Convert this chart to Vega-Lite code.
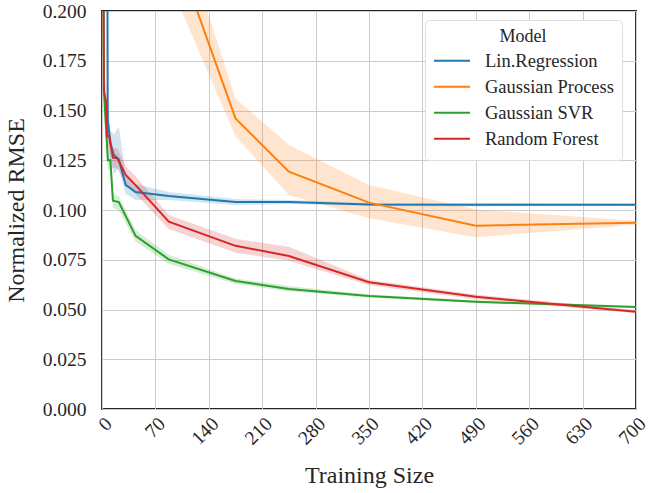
{
  "$schema": "https://vega.github.io/schema/vega-lite/v6.json",
  "autosize": {"type": "none"},
  "width": 534,
  "height": 398,
  "padding": {"left": 102, "top": 11, "right": 13, "bottom": 84},
  "background": "white",
  "config": {
    "font": "Liberation Serif",
    "view": {"stroke": "#262626", "strokeWidth": 1.8},
    "axis": {
      "gridColor": "#cccccc",
      "gridWidth": 1,
      "domain": false,
      "ticks": false,
      "labelFont": "Liberation Serif",
      "titleFont": "Liberation Serif",
      "labelFontSize": 19.5,
      "titleFontSize": 24,
      "titleFontWeight": "normal",
      "labelColor": "#262626",
      "titleColor": "#262626"
    }
  },
  "data": {
    "values": [
      {"m": "Lin.Regression", "x": 1, "y": 3.0, "lo": 2.9, "hi": 3.1},
      {"m": "Lin.Regression", "x": 5.5, "y": 0.5, "lo": 0.45, "hi": 0.55},
      {"m": "Lin.Regression", "x": 7.5, "y": 0.145, "lo": 0.135, "hi": 0.155},
      {"m": "Lin.Regression", "x": 11, "y": 0.1335, "lo": 0.125, "hi": 0.14},
      {"m": "Lin.Regression", "x": 15.5, "y": 0.1276, "lo": 0.118, "hi": 0.138},
      {"m": "Lin.Regression", "x": 22, "y": 0.1255, "lo": 0.121, "hi": 0.142},
      {"m": "Lin.Regression", "x": 31, "y": 0.1126, "lo": 0.108, "hi": 0.118},
      {"m": "Lin.Regression", "x": 44, "y": 0.109, "lo": 0.105, "hi": 0.113},
      {"m": "Lin.Regression", "x": 87.5, "y": 0.107, "lo": 0.105, "hi": 0.109},
      {"m": "Lin.Regression", "x": 175, "y": 0.104, "lo": 0.1025, "hi": 0.1055},
      {"m": "Lin.Regression", "x": 245, "y": 0.104, "lo": 0.103, "hi": 0.105},
      {"m": "Lin.Regression", "x": 350, "y": 0.1028, "lo": 0.102, "hi": 0.1035},
      {"m": "Lin.Regression", "x": 490, "y": 0.1027, "lo": 0.1018, "hi": 0.1035},
      {"m": "Lin.Regression", "x": 700, "y": 0.1027, "lo": 0.102, "hi": 0.1033},

      {"m": "Gaussian Process", "x": 1, "y": 2.0, "lo": 1.9, "hi": 2.1},
      {"m": "Gaussian Process", "x": 5.5, "y": 0.9, "lo": 0.85, "hi": 0.95},
      {"m": "Gaussian Process", "x": 11, "y": 0.6, "lo": 0.56, "hi": 0.64},
      {"m": "Gaussian Process", "x": 22, "y": 0.45, "lo": 0.42, "hi": 0.48},
      {"m": "Gaussian Process", "x": 44, "y": 0.33, "lo": 0.31, "hi": 0.35},
      {"m": "Gaussian Process", "x": 87.5, "y": 0.24, "lo": 0.215, "hi": 0.26},
      {"m": "Gaussian Process", "x": 175, "y": 0.146, "lo": 0.137, "hi": 0.156},
      {"m": "Gaussian Process", "x": 245, "y": 0.1193, "lo": 0.1075, "hi": 0.1327},
      {"m": "Gaussian Process", "x": 350, "y": 0.1037, "lo": 0.0958, "hi": 0.1126},
      {"m": "Gaussian Process", "x": 490, "y": 0.0921, "lo": 0.0863, "hi": 0.1002},
      {"m": "Gaussian Process", "x": 700, "y": 0.0936, "lo": 0.0926, "hi": 0.0946},

      {"m": "Gaussian SVR", "x": 1, "y": 0.35, "lo": 0.33, "hi": 0.37},
      {"m": "Gaussian SVR", "x": 2.5, "y": 0.16, "lo": 0.15, "hi": 0.17},
      {"m": "Gaussian SVR", "x": 7.7, "y": 0.125, "lo": 0.12, "hi": 0.13},
      {"m": "Gaussian SVR", "x": 11, "y": 0.125, "lo": 0.12, "hi": 0.13},
      {"m": "Gaussian SVR", "x": 14.3, "y": 0.1047, "lo": 0.101, "hi": 0.108},
      {"m": "Gaussian SVR", "x": 22, "y": 0.104, "lo": 0.1, "hi": 0.107},
      {"m": "Gaussian SVR", "x": 44, "y": 0.087, "lo": 0.084, "hi": 0.09},
      {"m": "Gaussian SVR", "x": 87.5, "y": 0.0752, "lo": 0.073, "hi": 0.0775},
      {"m": "Gaussian SVR", "x": 175, "y": 0.0643, "lo": 0.0628, "hi": 0.0656},
      {"m": "Gaussian SVR", "x": 245, "y": 0.0603, "lo": 0.0592, "hi": 0.0618},
      {"m": "Gaussian SVR", "x": 350, "y": 0.0568, "lo": 0.056, "hi": 0.0576},
      {"m": "Gaussian SVR", "x": 490, "y": 0.0539, "lo": 0.0533, "hi": 0.0545},
      {"m": "Gaussian SVR", "x": 700, "y": 0.0512, "lo": 0.0507, "hi": 0.0517},

      {"m": "Random Forest", "x": 1, "y": 0.3, "lo": 0.28, "hi": 0.32},
      {"m": "Random Forest", "x": 2.5, "y": 0.16, "lo": 0.15, "hi": 0.17},
      {"m": "Random Forest", "x": 5.5, "y": 0.154, "lo": 0.145, "hi": 0.162},
      {"m": "Random Forest", "x": 6.5, "y": 0.137, "lo": 0.13, "hi": 0.145},
      {"m": "Random Forest", "x": 9.5, "y": 0.137, "lo": 0.131, "hi": 0.143},
      {"m": "Random Forest", "x": 14.3, "y": 0.1263, "lo": 0.121, "hi": 0.131},
      {"m": "Random Forest", "x": 20, "y": 0.126, "lo": 0.121, "hi": 0.131},
      {"m": "Random Forest", "x": 31, "y": 0.1176, "lo": 0.113, "hi": 0.122},
      {"m": "Random Forest", "x": 44, "y": 0.1125, "lo": 0.108, "hi": 0.117},
      {"m": "Random Forest", "x": 87.5, "y": 0.0941, "lo": 0.0905, "hi": 0.0975},
      {"m": "Random Forest", "x": 175, "y": 0.082, "lo": 0.0785, "hi": 0.0855},
      {"m": "Random Forest", "x": 245, "y": 0.0769, "lo": 0.0745, "hi": 0.0815},
      {"m": "Random Forest", "x": 350, "y": 0.0637, "lo": 0.0622, "hi": 0.065},
      {"m": "Random Forest", "x": 490, "y": 0.0564, "lo": 0.0552, "hi": 0.0575},
      {"m": "Random Forest", "x": 700, "y": 0.0489, "lo": 0.0481, "hi": 0.0497}
    ]
  },
  "encoding": {
    "x": {
      "field": "x", "type": "quantitative",
      "scale": {"domain": [0, 700], "nice": false, "zero": false},
      "axis": {"values": [0, 70, 140, 210, 280, 350, 420, 490, 560, 630, 700], "labelAngle": -45, "labelAlign": "right", "labelBaseline": "top", "labelPadding": 5, "title": "Training Size", "titlePadding": 16}
    },
    "color": {
      "field": "m", "type": "nominal",
      "scale": {"domain": ["Lin.Regression", "Gaussian Process", "Gaussian SVR", "Random Forest"], "range": ["#1f77b4", "#ff7f0e", "#2ca02c", "#d62728"]},
      "legend": {
        "orient": "none", "legendX": 323, "legendY": 9,
        "title": "Model", "titleFontSize": 18, "titleFontWeight": "normal", "titleColor": "#262626", "titleAnchor": "middle", "titlePadding": 2,
        "labelFontSize": 18.5, "labelColor": "#262626", "labelOffset": 14,
        "symbolType": "stroke", "symbolSize": 1296, "symbolStrokeWidth": 2, "symbolOpacity": 1, "clipHeight": 25.5, "rowPadding": 0,
        "padding": 8, "fillColor": "white", "strokeColor": "#dddddd", "cornerRadius": 4
      }
    }
  },
  "layer": [
    {
      "mark": {"type": "area", "opacity": 0.2, "clip": true},
      "encoding": {
        "y": {"field": "lo", "type": "quantitative", "scale": {"domain": [0, 0.2], "nice": false}},
        "y2": {"field": "hi"}
      }
    },
    {
      "mark": {"type": "line", "strokeWidth": 2, "clip": true},
      "encoding": {
        "y": {
          "field": "y", "type": "quantitative",
          "scale": {"domain": [0, 0.2], "nice": false},
          "axis": {"values": [0, 0.025, 0.05, 0.075, 0.1, 0.125, 0.15, 0.175, 0.2], "format": ".3f", "title": "Normalized RMSE", "labelPadding": 16, "titlePadding": 14}
        }
      }
    }
  ]
}
